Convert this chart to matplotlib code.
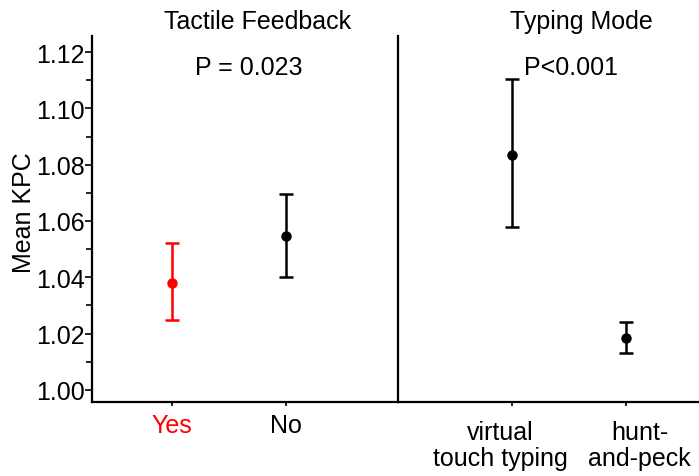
import numpy as np
import matplotlib.pyplot as plt
from matplotlib.ticker import MultipleLocator
import matplotlib.transforms as mtransforms

plt.rcParams['font.family'] = ['Liberation Sans', 'DejaVu Sans']

# Tactile feedback panel
tactile_labels = ["Yes", "No"]
tactile_mean = [1.038, 1.0547]
tactile_low = [1.025, 1.040]
tactile_high = [1.052, 1.0696]
tactile_colors = ["red", "black"]

# Typing mode panel
typing_labels = ["virtual\ntouch typing", "hunt-\nand-peck"]
typing_mean = [1.0834, 1.0184]
typing_low = [1.0578, 1.0131]
typing_high = [1.1105, 1.024]
typing_colors = ["black", "black"]

FS = 18
fig = plt.figure(figsize=(6.99, 4.77), dpi=100)
W, H = 699, 477
ax1 = fig.add_axes([92 / W, 74 / H, (398 - 92) / W, (403 - 37) / H])
ax2 = fig.add_axes([398 / W, 74 / H, (699 - 398) / W, (403 - 37) / H])

def draw(ax, xs, mean, low, high, colors):
    for x, m, lo, hi, c in zip(xs, mean, low, high, colors):
        ax.errorbar(x, m, yerr=[[m - lo], [hi - m]], fmt='o', color=c,
                    ecolor=c, elinewidth=1.8, capsize=5, capthick=1.8,
                    markersize=6.5)

x1 = np.arange(len(tactile_labels))
x2 = np.arange(len(typing_labels)) + 1
draw(ax1, x1, tactile_mean, tactile_low, tactile_high, tactile_colors)
draw(ax2, x2, typing_mean, typing_low, typing_high, typing_colors)

for ax in (ax1, ax2):
    ax.set_ylim(0.9957, 1.1257)
    ax.spines['top'].set_visible(False)
    ax.spines['right'].set_visible(False)
    for s in ('left', 'bottom'):
        ax.spines[s].set_linewidth(1.6)
    ax.tick_params(axis='x', length=3, width=1.2, labelsize=FS)

ax1.set_xlim(-0.70, 1.98)
ax2.set_xlim(0.0, 2.64)

ax1.set_xticks(x1)
ax1.set_xticklabels(tactile_labels)
for lab, c in zip(ax1.get_xticklabels(), tactile_colors):
    lab.set_color(c)
ax1.tick_params(axis='x', pad=5)

# right panel labels sit a bit off their ticks in the original
ax2.set_xticks(x2)
ax2.set_xticklabels([])
trans2 = mtransforms.blended_transform_factory(ax2.transData, ax2.transAxes)
for x, lab, dx in zip(x2, typing_labels, [-0.10, 0.12]):
    ax2.text(x + dx, -18 / 366, lab, transform=trans2, ha='center', va='top',
             fontsize=FS, linespacing=1.1, clip_on=False)

ax1.yaxis.set_major_locator(MultipleLocator(0.02))
ax1.yaxis.set_minor_locator(MultipleLocator(0.01))
ax1.yaxis.set_major_formatter(plt.FormatStrFormatter('%.2f'))
ax1.tick_params(axis='y', which='major', length=5, width=1.2, labelsize=FS, pad=0)
ax1.tick_params(axis='y', which='minor', length=4, width=1.2)
fig.text(24 / W, 1 - 213 / H, "Mean KPC", rotation=90, fontsize=FS,
         ha='center', va='center')

ax2.tick_params(axis='y', which='both', left=False, labelleft=False)

trans1 = mtransforms.blended_transform_factory(ax1.transData, ax1.transAxes)
ax1.text(0.746, 1 + 8 / 366, "Tactile Feedback", transform=trans1,
         fontsize=FS, ha='center', va='baseline', clip_on=False)
ax2.text(1.61, 1 + 8 / 366, "Typing Mode", transform=trans2,
         fontsize=FS, ha='center', va='baseline', clip_on=False)
ax1.text(0.675, 1.1122, "P = 0.023", fontsize=FS, ha='center', va='baseline')
ax2.text(1.52, 1.1122, "P<0.001", fontsize=FS, ha='center', va='baseline')

fig.savefig("out.png", dpi=100)
